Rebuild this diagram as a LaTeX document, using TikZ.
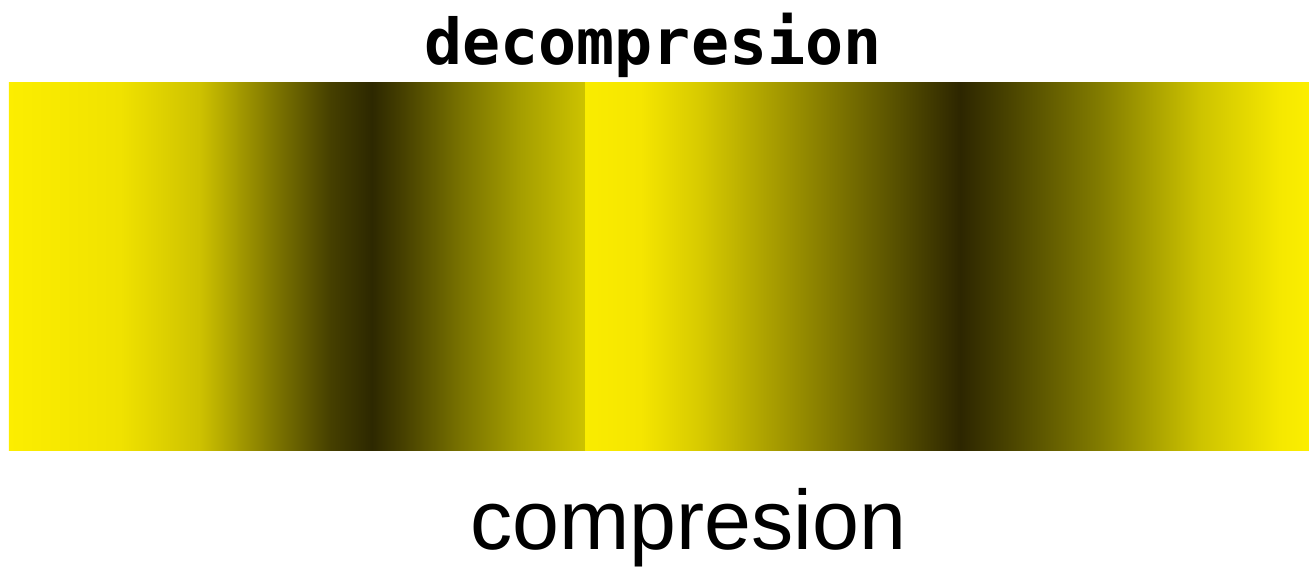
\documentclass[tikz,border=0pt]{standalone}
\usepackage{fontspec}
\usepackage{xcolor}
\usetikzlibrary{calc}
\newfontfamily\labmono{DejaVu Sans Mono}
\newfontfamily\labsans{Liberation Sans}
\pgfdeclarehorizontalshading{leftwave}{100bp}{rgb(0bp)=(0.988,0.933,0); rgb(25bp)=(0.988,0.933,0); rgb(34.65bp)=(0.941,0.886,0); rgb(41.6bp)=(0.804,0.757,0); rgb(47.65bp)=(0.510,0.478,0); rgb(52.85bp)=(0.275,0.251,0); rgb(56.5bp)=(0.176,0.157,0); rgb(58.95bp)=(0.267,0.243,0); rgb(64.15bp)=(0.471,0.447,0); rgb(69.35bp)=(0.647,0.620,0); rgb(75bp)=(0.804,0.765,0); rgb(100bp)=(0.804,0.765,0)}
\pgfdeclarehorizontalshading{rightwave}{100bp}{rgb(0bp)=(0.980,0.925,0); rgb(25bp)=(0.980,0.925,0); rgb(28.8bp)=(0.961,0.902,0); rgb(32.95bp)=(0.843,0.792,0); rgb(39.85bp)=(0.588,0.549,0); rgb(46.75bp)=(0.333,0.306,0); rgb(50.9bp)=(0.176,0.149,0); rgb(53.65bp)=(0.267,0.243,0); rgb(60.55bp)=(0.510,0.486,0); rgb(67.45bp)=(0.804,0.765,0); rgb(72.95bp)=(0.961,0.910,0); rgb(75bp)=(0.988,0.933,0); rgb(100bp)=(0.988,0.933,0)}
\begin{document}
\begin{tikzpicture}[every node/.style={inner sep=0pt, anchor=base}]
	\useasboundingbox (0,0) rectangle (26.18,11.36);
	\coordinate (sw) at (0.18,2.36);
	\coordinate (mid) at (11.7,9.72);
	\coordinate (ne) at (26.18,9.72);
	\shade[shading=leftwave] (sw) rectangle (mid);
	\shade[shading=rightwave] (sw -| mid) rectangle (ne);
	\node(top)at(13.06,10.08){\labmono\bfseries\fontsize{36}{40}\selectfont decompresion};
	\node(bot)at(13.76,0.38){\labsans\fontsize{48}{52}\selectfont compresion};
\end{tikzpicture}
\end{document}
